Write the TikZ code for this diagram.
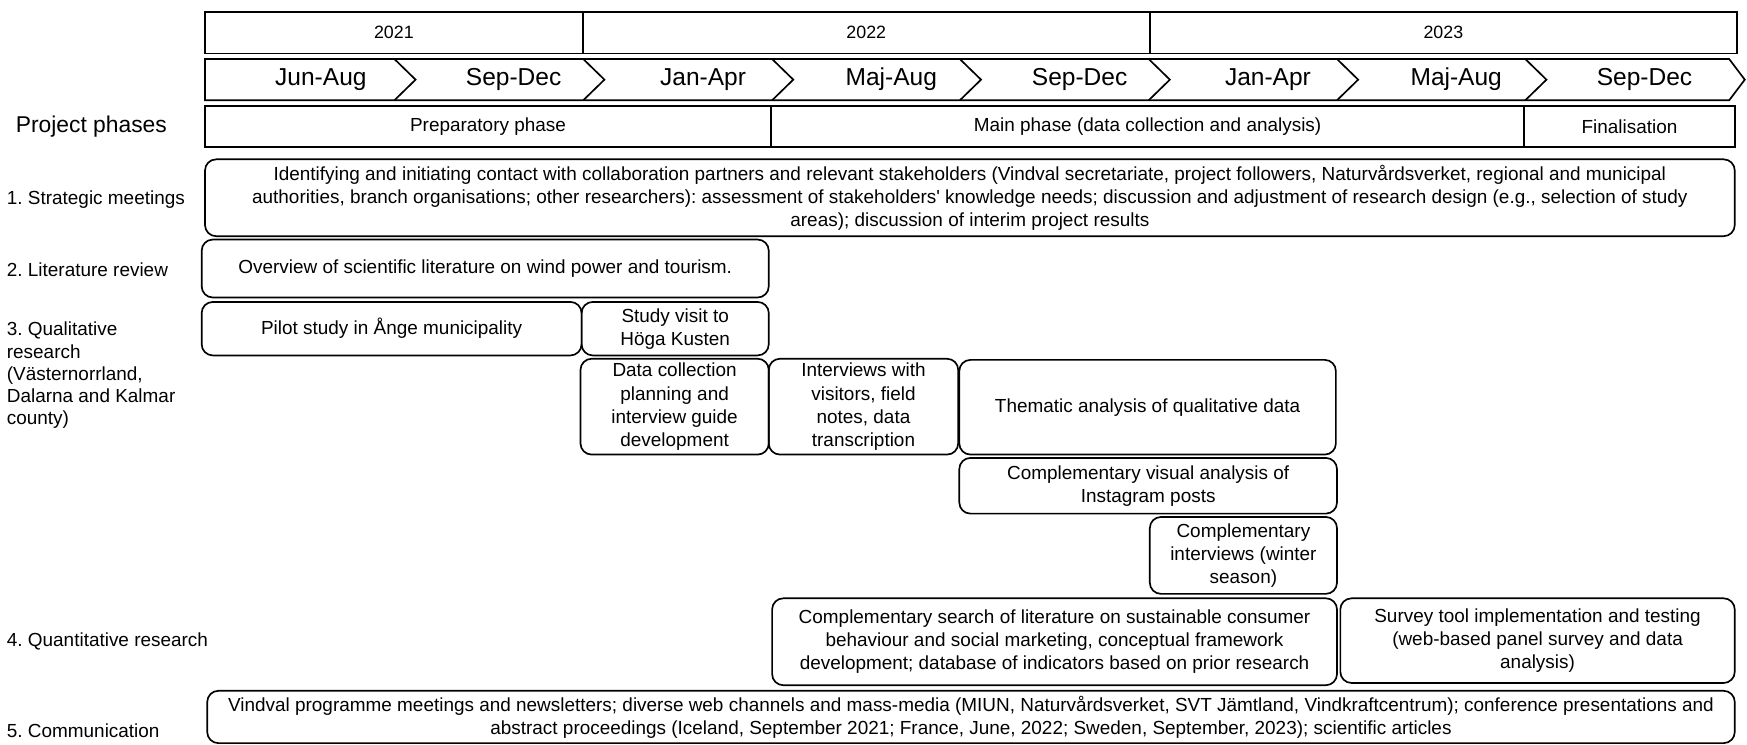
\documentclass[tikz,border=0pt]{standalone}
\usepackage{fontspec}
\setmainfont{Liberation Sans}
\frenchspacing
\begin{document}
\begin{tikzpicture}[x=1pt,y=-1pt,
  yearbox/.style={draw, line width=1.5pt, minimum height=37pt, inner sep=0pt, font=\fontsize{16}{19}\selectfont},
  phasebox/.style={draw, line width=1.5pt, minimum height=37pt, inner sep=0pt, font=\fontsize{17}{20}\selectfont},
  task/.style={draw, line width=1.5pt, rounded corners=10pt, inner sep=0pt, align=center, font=\fontsize{17}{20.7}\selectfont},
  lbl/.style={anchor=west, inner sep=0pt, align=left, font=\fontsize{17}{20}\selectfont},
  month/.style={inner sep=0pt, font=\fontsize{22}{26}\selectfont},
  chev/.style={line width=1.5pt, line join=miter}
]
\useasboundingbox (0,0) rectangle (1568,668);

% years
\node[yearbox, minimum width=339pt] (y2021) at (353.5,29.5) {2021};
\node[yearbox, minimum width=509pt] (y2022) at (777.5,29.5) {2022};
\node[yearbox, minimum width=527pt] (y2023) at (1295.5,29.5) {2023};

% month chevron row
\draw[chev] (184,53) -- (1552,53) -- (1566,71.5) -- (1552,90) -- (184,90) -- cycle;
\foreach \b in {354,523.5,693,861.5,1031,1200,1369}{
  \draw[chev] (\b,53) -- (\b+19,71.5) -- (\b,90);
}
\node[month] (m1) at (288,71.5) {Jun-Aug};
\node[month] (m2) at (461,71.5) {Sep-Dec};
\node[month] (m3) at (631,71.5) {Jan-Apr};
\node[month] (m4) at (800,71.5) {Maj-Aug};
\node[month] (m5) at (969,71.5) {Sep-Dec};
\node[month] (m6) at (1138,71.5) {Jan-Apr};
\node[month] (m7) at (1307,71.5) {Maj-Aug};
\node[month] (m8) at (1476,71.5) {Sep-Dec};

% phases
\node[phasebox, minimum width=508pt] (prep) at (438,113.5) {Preparatory phase};
\node[phasebox, minimum width=676pt] (main) at (1030,113.5) {Main phase (data collection and analysis)};
\node[phasebox, minimum width=189pt] (fin) at (1462.5,113.5) {Finalisation};

% left labels
\node[lbl, font=\fontsize{20.5}{24}\selectfont] (lphase) at (14,114) {Project phases};
\node[lbl] (l1) at (6,179) {1. Strategic meetings};
\node[lbl] (l2) at (6,242) {2. Literature review};
\node[lbl] (l3) at (6,337) {3. Qualitative\\research\\(Västernorrland,\\Dalarna and Kalmar\\county)};
\node[lbl] (l4) at (6,576) {4. Quantitative research};
\node[lbl] (l5) at (6,656) {5. Communication};

% tasks
\node[task, minimum width=1373pt, minimum height=69pt] (s1) at (870.5,177.5)
 {Identifying and initiating contact with collaboration partners and relevant stakeholders (Vindval secretariate, project followers, Naturvårdsverket, regional and municipal\\
  authorities, branch organisations; other researchers): assessment of stakeholders\textquotesingle\ knowledge needs; discussion and adjustment of research design (e.g., selection of study\\
  areas); discussion of interim project results};
\node[task, minimum width=509pt, minimum height=52pt] (lit) at (435.5,241) {Overview of scientific literature on wind power and tourism.};
\node[task, minimum width=341pt, minimum height=48pt] (pilot) at (351.5,295) {Pilot study in Ånge municipality};
\node[task, minimum width=168pt, minimum height=48pt] (visit) at (606,295) {Study visit to\\Höga Kusten};
\node[task, minimum width=169pt, minimum height=86pt] (dcp) at (605.5,365) {Data collection\\planning and\\interview guide\\development};
\node[task, minimum width=170pt, minimum height=86pt] (intv) at (775,365) {Interviews with\\visitors, field\\notes, data\\transcription};
\node[task, minimum width=338pt, minimum height=85pt] (them) at (1030,365.5) {Thematic analysis of qualitative data};
\node[task, minimum width=339pt, minimum height=50pt] (vis) at (1030.5,436) {Complementary visual analysis of\\Instagram posts};
\node[task, minimum width=168pt, minimum height=69pt] (cint) at (1116,498.5) {Complementary\\interviews (winter\\season)};
\node[task, minimum width=507pt, minimum height=78pt] (q1) at (946.5,576) {Complementary search of literature on sustainable consumer\\behaviour and social marketing, conceptual framework\\development; database of indicators based on prior research};
\node[task, minimum width=354pt, minimum height=76pt] (q2) at (1380,575) {Survey tool implementation and testing\\(web-based panel survey and data\\analysis)};
\node[task, minimum width=1371pt, minimum height=47pt] (comm) at (871.5,643.5)
 {Vindval programme meetings and newsletters; diverse web channels and mass-media (MIUN, Naturvårdsverket, SVT Jämtland, Vindkraftcentrum); conference presentations and\\
  abstract proceedings (Iceland, September 2021; France, June, 2022; Sweden, September, 2023); scientific articles};
\end{tikzpicture}
\end{document}
